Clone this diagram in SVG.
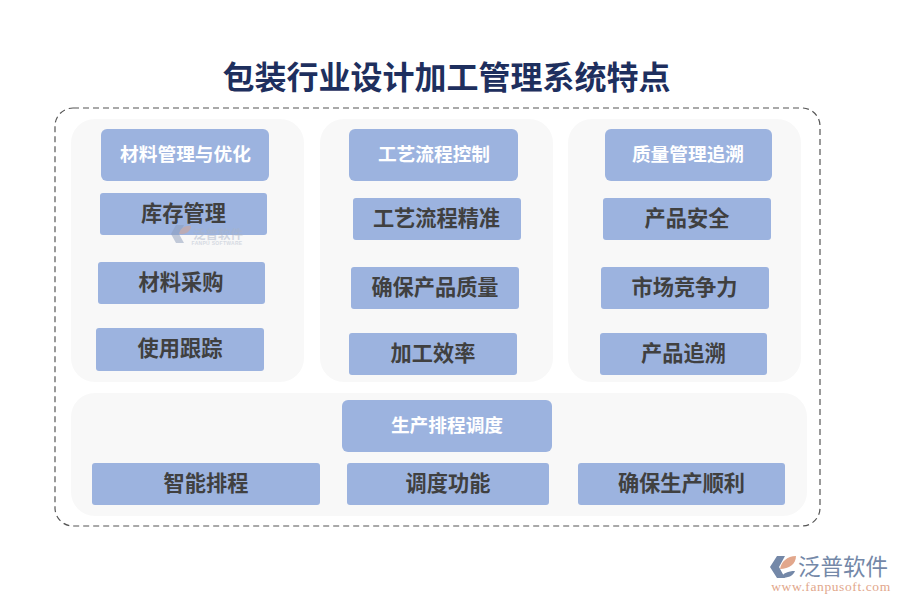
<svg xmlns="http://www.w3.org/2000/svg" width="900" height="600" viewBox="0 0 900 600">
<style>
text{font-family:"Noto Sans CJK SC","Noto Sans",sans-serif;text-anchor:middle}
.t{font-size:32px;font-weight:700;fill:#1e2f5e}
.h{font-size:18.7px;font-weight:700;fill:#fff}
.i{font-size:21.2px;font-weight:700;fill:#404040}
.p{fill:#f8f8f8}
.b{fill:#9cb3df}
</style>
<rect width="900" height="600" fill="#fff"/>
<text class="t" x="446.500" y="89">包装行业设计加工管理系统特点</text>
<rect x="55" y="108" width="765" height="418" rx="18" fill="none" stroke="#555" stroke-width="1.2" stroke-dasharray="6 4"/>
<g id="panels">
<rect class="p" x="71" y="119" width="233" height="263" rx="24"/>
<rect class="p" x="320" y="119" width="233" height="263" rx="24"/>
<rect class="p" x="568" y="119" width="233" height="263" rx="24"/>
<rect class="p" x="71" y="393" width="736" height="123" rx="24"/>
</g>
<g id="n1"><rect class="b" x="101" y="129" width="168" height="52" rx="6"/><text class="h" x="185.500" y="160.500">材料管理与优化</text></g>
<g id="n2"><rect class="b" x="100" y="193" width="167" height="42" rx="3"/><text class="i" x="183.500" y="221">库存管理</text></g>
<g id="n3"><rect class="b" x="98" y="262" width="167" height="42" rx="3"/><text class="i" x="181" y="290">材料采购</text></g>
<g id="n4"><rect class="b" x="96" y="328" width="168" height="43" rx="3"/><text class="i" x="180" y="356">使用跟踪</text></g>
<g id="n5"><rect class="b" x="349" y="129" width="169" height="52" rx="6"/><text class="h" x="434" y="160.500">工艺流程控制</text></g>
<g id="n6"><rect class="b" x="353" y="198" width="168" height="42" rx="3"/><text class="i" x="436.500" y="226">工艺流程精准</text></g>
<g id="n7"><rect class="b" x="351" y="267" width="168" height="42" rx="3"/><text class="i" x="435" y="295">确保产品质量</text></g>
<g id="n8"><rect class="b" x="349" y="333" width="168" height="42" rx="3"/><text class="i" x="433" y="361">加工效率</text></g>
<g id="n9"><rect class="b" x="605" y="129" width="167" height="52" rx="6"/><text class="h" x="688" y="160.500">质量管理追溯</text></g>
<g id="n10"><rect class="b" x="603" y="198" width="168" height="42" rx="3"/><text class="i" x="687" y="226">产品安全</text></g>
<g id="n11"><rect class="b" x="601" y="267" width="168" height="42" rx="3"/><text class="i" x="684.500" y="295">市场竞争力</text></g>
<g id="n12"><rect class="b" x="600" y="333" width="167" height="42" rx="3"/><text class="i" x="683.500" y="361">产品追溯</text></g>
<g id="n13"><rect class="b" x="342" y="400" width="210" height="52" rx="6"/><text class="h" x="447" y="431.500">生产排程调度</text></g>
<g id="n14"><rect class="b" x="92" y="463" width="228" height="42" rx="3"/><text class="i" x="206" y="490.500">智能排程</text></g>
<g id="n15"><rect class="b" x="347" y="463" width="202" height="42" rx="3"/><text class="i" x="448" y="490.500">调度功能</text></g>
<g id="n16"><rect class="b" x="578" y="463" width="207" height="42" rx="3"/><text class="i" x="681.500" y="490.500">确保生产顺利</text></g>
<g id="watermark" opacity="0.5">
<path d="M171 234l5-9h8l-5 9 5 9h-8z" fill="#8c9cba"/>
<path d="M179 234c1-5 5-9 12-8 0 5-5 9-12 8z" fill="#dba58c"/>
<text x="218" y="239" style="font-size:12.500px;font-weight:700;fill:#a9b4c8">泛普软件</text>
<text x="217" y="245" style="font-family:'Liberation Sans',sans-serif;font-size:5px;font-weight:700;fill:#b4bdcd;letter-spacing:.3px">FANPU SOFTWARE</text>
</g>
<g id="logo">
<path d="M770 567l7-11h8l-6 11 6 11h-8z" fill="#7488a8"/>
<path d="M780 569c1-7 7-13 16-13 0 8-7 13-16 13z" fill="#e2a78c"/>
<path d="M781 578c2-5 7-7 14-7-2 5-7 7-14 7z" fill="#7488a8"/>
<text x="843" y="575" style="font-size:22.500px;fill:#7488a8">泛普软件</text>
<text x="831" y="591" style="font-family:'Liberation Serif',serif;font-size:13.500px;fill:#e2a78c;letter-spacing:.6px">www.fanpusoft.com</text>
</g>
</svg>
